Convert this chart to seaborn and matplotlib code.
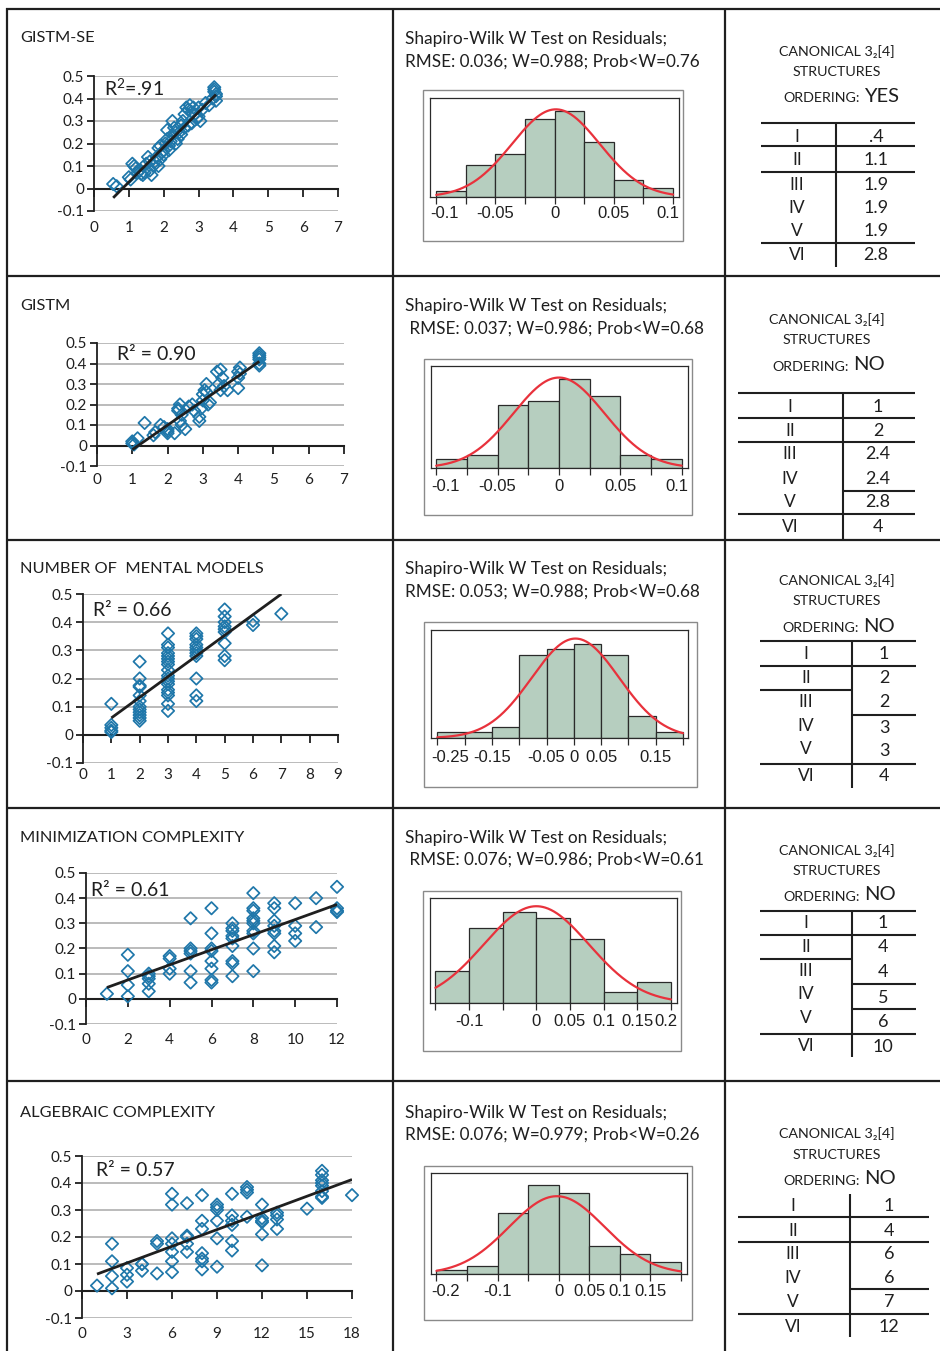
import numpy as np
import pandas as pd
import matplotlib
matplotlib.use("Agg")
import matplotlib.pyplot as plt
from matplotlib.patches import Rectangle
import seaborn as sns

sns.set_theme(style="white")
plt.rcParams["font.family"] = ["Lato", "DejaVu Sans"]
plt.rcParams["mathtext.fontset"] = "custom"
plt.rcParams["mathtext.rm"] = "Lato"
plt.rcParams["mathtext.it"] = "Lato"
plt.rcParams["text.color"] = "#1f1f1f"

W, H = 940, 1351

# ------------------------------------------------------------------ data
panel_titles = ["GISTM-SE", "GISTM", "NUMBER OF  MENTAL MODELS",
                "MINIMIZATION COMPLEXITY", "ALGEBRAIC COMPLEXITY"]
r2_labels = ["R$^{2}$=.91", "R\u00b2 = 0.90", "R\u00b2 = 0.66",
             "R\u00b2 = 0.61", "R\u00b2 = 0.57"]

gse_x = [0.55, 0.65, 1.0, 1.05, 1.1, 1.15, 1.2, 1.25, 1.3, 1.35, 1.4, 1.45, 1.5,
         1.55, 1.6, 1.6, 1.65, 1.7, 1.75, 1.8, 1.85, 1.85, 1.9, 1.9, 1.95, 2.0,
         2.0, 2.05, 2.1, 2.1, 2.15, 2.15, 2.2, 2.25, 2.25, 2.3, 2.35, 2.35, 2.4,
         2.45, 2.5, 2.5, 2.55, 2.6, 2.6, 2.65, 2.7, 2.7, 2.75, 2.8, 2.8, 2.85,
         2.9, 2.95, 3.0, 3.0, 3.05, 3.1, 3.2, 3.3, 3.4, 3.45, 3.45, 3.45, 3.5,
         3.5, 3.5]
gse_y = [0.02, 0.01, 0.05, 0.04, 0.11, 0.10, 0.09, 0.07, 0.08, 0.065, 0.06, 0.07,
         0.11, 0.14, 0.08, 0.12, 0.06, 0.10, 0.12, 0.14, 0.18, 0.10, 0.19, 0.13,
         0.16, 0.15, 0.17, 0.20, 0.22, 0.26, 0.19, 0.17, 0.21, 0.24, 0.30, 0.27,
         0.20, 0.25, 0.22, 0.25, 0.28, 0.24, 0.30, 0.33, 0.27, 0.36, 0.35, 0.28,
         0.37, 0.34, 0.29, 0.36, 0.33, 0.31, 0.32, 0.36, 0.30, 0.35, 0.38, 0.37,
         0.40, 0.45, 0.43, 0.44, 0.42, 0.39, 0.41]

gistm_x = [1.0, 1.0, 1.05, 1.15, 1.35, 1.6, 1.65, 1.8, 1.9, 2.0, 2.0, 2.0, 2.2,
           2.3, 2.3, 2.35, 2.4, 2.35, 2.4, 2.5, 2.6, 2.7, 2.75, 2.9, 2.9, 2.95,
           3.0, 3.0, 3.05, 3.1, 3.1, 3.15, 3.2, 3.4, 3.45, 3.5, 3.55, 3.5, 3.6,
           3.7, 4.0, 4.05, 4.0, 4.0, 4.05, 4.6, 4.6, 4.6, 4.6, 4.6, 4.6]
gistm_y = [0.01, 0.02, 0.005, 0.035, 0.11, 0.05, 0.065, 0.10, 0.09, 0.07, 0.08,
           0.06, 0.06, 0.17, 0.18, 0.20, 0.15, 0.12, 0.10, 0.08, 0.19, 0.20, 0.17,
           0.12, 0.14, 0.18, 0.22, 0.25, 0.27, 0.30, 0.26, 0.20, 0.21, 0.36, 0.30,
           0.37, 0.33, 0.27, 0.29, 0.27, 0.36, 0.38, 0.28, 0.33, 0.35, 0.45, 0.44,
           0.42, 0.40, 0.39, 0.43]

models_x = [1, 1, 1, 1, 1,
            2, 2, 2, 2, 2, 2, 2, 2, 2, 2, 2, 2,
            3, 3, 3, 3, 3, 3, 3, 3, 3, 3, 3, 3, 3, 3, 3, 3, 3, 3,
            4, 4, 4, 4, 4, 4, 4, 4, 4, 4, 4,
            5, 5, 5, 5, 5, 5, 5, 5, 5,
            6, 6, 7]
models_y = [0.11, 0.035, 0.025, 0.015, 0.01,
            0.26, 0.20, 0.175, 0.17, 0.14, 0.12, 0.10, 0.09, 0.08, 0.07, 0.06, 0.05,
            0.36, 0.32, 0.31, 0.29, 0.28, 0.27, 0.26, 0.25, 0.23, 0.21, 0.20, 0.19,
            0.18, 0.16, 0.15, 0.14, 0.11, 0.085,
            0.36, 0.35, 0.34, 0.32, 0.31, 0.30, 0.29, 0.28, 0.20, 0.14, 0.12,
            0.445, 0.42, 0.40, 0.385, 0.375, 0.365, 0.325, 0.28, 0.265,
            0.405, 0.39, 0.43]

minim_x = [1, 2, 2, 2, 2, 3, 3, 3, 3, 3, 4, 4, 4, 4,
           5, 5, 5, 5, 5, 5, 6, 6, 6, 6, 6, 6, 6, 6,
           7, 7, 7, 7, 7, 7, 7, 7, 7,
           8, 8, 8, 8, 8, 8, 8, 8, 8, 8,
           9, 9, 9, 9, 9, 9, 9, 9,
           10, 10, 10, 10, 11, 11, 12, 12, 12, 12]
minim_y = [0.02, 0.175, 0.11, 0.055, 0.01, 0.10, 0.09, 0.08, 0.06, 0.03,
           0.17, 0.16, 0.12, 0.10,
           0.32, 0.20, 0.19, 0.18, 0.11, 0.065,
           0.36, 0.26, 0.20, 0.19, 0.15, 0.12, 0.075, 0.065,
           0.30, 0.28, 0.27, 0.25, 0.24, 0.21, 0.15, 0.14, 0.09,
           0.42, 0.36, 0.35, 0.32, 0.31, 0.30, 0.27, 0.26, 0.20, 0.11,
           0.38, 0.36, 0.31, 0.29, 0.27, 0.26, 0.21, 0.185,
           0.38, 0.29, 0.26, 0.23, 0.40, 0.285, 0.445, 0.36, 0.35, 0.345]

alg_x = [1, 2, 2, 2, 2, 3, 3, 3, 4, 4, 4, 5, 5, 5,
         6, 6, 6, 6, 6, 6, 6, 7, 7, 7, 7, 7,
         8, 8, 8, 8, 8, 8, 8, 9, 9, 9, 9, 9, 9,
         10, 10, 10, 10, 10, 10, 11, 11, 11, 11,
         12, 12, 12, 12, 12, 12, 13, 13, 13, 13, 15,
         16, 16, 16, 16, 16, 16, 16, 16, 18]
alg_y = [0.02, 0.175, 0.11, 0.055, 0.01, 0.085, 0.06, 0.035, 0.10, 0.10, 0.075,
         0.185, 0.175, 0.065,
         0.36, 0.32, 0.195, 0.175, 0.145, 0.11, 0.07,
         0.325, 0.205, 0.20, 0.175, 0.145,
         0.355, 0.26, 0.23, 0.14, 0.12, 0.11, 0.08,
         0.32, 0.31, 0.30, 0.26, 0.195, 0.09,
         0.36, 0.28, 0.26, 0.245, 0.185, 0.15,
         0.385, 0.375, 0.365, 0.275,
         0.32, 0.27, 0.26, 0.255, 0.21, 0.095,
         0.29, 0.28, 0.265, 0.23, 0.305,
         0.445, 0.43, 0.41, 0.40, 0.39, 0.37, 0.35, 0.345, 0.355]

scatter_x = [gse_x, gistm_x, models_x, minim_x, alg_x]
scatter_y = [gse_y, gistm_y, models_y, minim_y, alg_y]
fit_slope = [0.1556, 0.1196, 0.0733, 0.0300, 0.0206]
fit_intercept = [-0.127, -0.140, -0.0133, 0.015, 0.042]
x_axis_max = [7, 7, 9, 12, 18]
x_axis_step = [1, 1, 1, 2, 3]

sw_line1 = "Shapiro-Wilk W Test on Residuals;"
sw_line2 = ["RMSE: 0.036; W=0.988; Prob<W=0.76",
            " RMSE: 0.037; W=0.986; Prob<W=0.68",
            "RMSE: 0.053; W=0.988; Prob<W=0.68",
            " RMSE: 0.076; W=0.986; Prob<W=0.61",
            "RMSE: 0.076; W=0.979; Prob<W=0.26"]

hist_edges = [
    [-0.1, -0.075, -0.05, -0.025, 0.0, 0.025, 0.05, 0.075, 0.1],
    [-0.1, -0.075, -0.05, -0.025, 0.0, 0.025, 0.05, 0.075, 0.1],
    [-0.25, -0.2, -0.15, -0.1, -0.05, 0.0, 0.05, 0.1, 0.15, 0.2],
    [-0.15, -0.1, -0.05, 0.0, 0.05, 0.1, 0.15, 0.2],
    [-0.2, -0.15, -0.1, -0.05, 0.0, 0.05, 0.1, 0.15, 0.2],
]
hist_counts = [
    [2, 11, 15, 27, 30, 19, 6, 3],
    [2, 3, 14, 15, 20, 16, 3, 2],
    [1, 1, 2, 15, 16, 17, 15, 4, 1],
    [6, 14, 17, 16, 12, 2, 4],
    [1, 2, 15, 22, 20, 7, 5, 3],
]
normal_mean = [0.001, 0.0, 0.003, 0.0, -0.003]
normal_sd = [0.037, 0.037, 0.080, 0.078, 0.078]
hist_tick_labels = [
    ["-0.1", "-0.05", "0", "0.05", "0.1"],
    ["-0.1", "-0.05", "0", "0.05", "0.1"],
    ["-0.25", "-0.15", "-0.05", "0", "0.05", "0.15"],
    ["-0.1", "0", "0.05", "0.1", "0.15", "0.2"],
    ["-0.2", "-0.1", "0", "0.05", "0.1", "0.15"],
]

structures = ["I", "II", "III", "IV", "V", "VI"]
structure_values = [
    [".4", "1.1", "1.9", "1.9", "1.9", "2.8"],
    ["1", "2", "2.4", "2.4", "2.8", "4"],
    ["1", "2", "2", "3", "3", "4"],
    ["1", "4", "4", "5", "6", "10"],
    ["1", "4", "6", "6", "7", "12"],
]
ordering = ["YES", "NO", "NO", "NO", "NO"]

# ---------------------------------------------------------------- layout
BLUE = "#1f77aa"
GRID = "#a8a8a8"
INK = "#1f1f1f"
BAR = "#b6cebf"
CURVE = "#e8323c"

# panel boxes in pixels: (left, top, right, bottom)
scatter_box = [(94, 76, 338, 211), (97, 343, 344, 466), (83, 594, 338, 763),
               (86, 873, 337, 1024), (82, 1156, 352, 1318)]
scatter_label_drop = [17, 14, 12, 16, 16]
title_y = [38, 306, 569, 838, 1113]
r2_pos = [(104, 88), (117, 355), (93, 611), (91, 890), (96, 1171)]

hist_box = [(430, 98, 679, 197), (431, 366, 688, 468), (431, 630, 688, 738),
            (430, 898, 677, 1003), (431, 1173, 687, 1274)]
hist_frame = [(423, 90, 683, 241), (424, 359, 692, 515), (424, 622, 697, 787),
              (423, 891, 681, 1051), (424, 1166, 692, 1320)]
hist_xlim = [(-0.1053, 0.1050), (-0.1043, 0.1052), (-0.2616, 0.2092),
             (-0.158, 0.209), (-0.209, 0.210)]
hist_ytop = [34.4, 22.8, 19.5, 19.7, 24.9]
hist_label_drop = [17, 19, 20, 19, 18]
sw_y = [(39, 62), (306, 329), (569, 592), (838, 860), (1113, 1135)]

table_layout = [
    dict(x0=761, x1=915, xv=836, v0=123, v1=267, hx=837, hy=(52, 72, 97),
         lines=[(123, "all"), (146, "all"), (172, "all"), (243, "all")],
         cl=797, cr=876, yl=[137, 160, 185, 208, 231, 255],
         yr=[137, 160, 185, 208, 231, 255], ord_x=860),
    dict(x0=738, x1=915, xv=843, v0=393, v1=540, hx=827, hy=(320, 340, 366),
         lines=[(393, "all"), (418, "all"), (442, "all"), (491, "right"), (514, "all")],
         cl=790, cr=878, yl=[407, 431, 454, 479, 502, 527],
         yr=[407, 431, 454, 479, 502, 527], ord_x=849),
    dict(x0=760, x1=916, xv=852, v0=641, v1=788, hx=837, hy=(581, 601, 627),
         lines=[(641, "all"), (666, "all"), (690, "left"), (715, "right"), (764, "all")],
         cl=806, cr=884, yl=[654, 678, 702, 726, 749, 776],
         yr=[654, 678, 702, 728, 751, 776], ord_x=859),
    dict(x0=760, x1=916, xv=852, v0=911, v1=1057, hx=837, hy=(851, 871, 896),
         lines=[(911, "all"), (935, "all"), (959, "left"), (984, "right"),
                (1009, "right"), (1034, "all")],
         cl=806, cr=883, yl=[923, 947, 971, 994, 1018, 1046],
         yr=[923, 947, 972, 998, 1022, 1047], ord_x=860),
    dict(x0=738, x1=929, xv=850, v0=1194, v1=1337, hx=837, hy=(1134, 1155, 1180),
         lines=[(1217, "all"), (1242, "all"), (1289, "right"), (1314, "all")],
         cl=793, cr=889, yl=[1206, 1231, 1254, 1278, 1302, 1327],
         yr=[1206, 1231, 1254, 1278, 1302, 1327], ord_x=860),
]


def frac_rect(left, top, right, bottom):
    return [left / W, 1 - bottom / H, (right - left) / W, (bottom - top) / H]


fig = plt.figure(figsize=(W / 100, H / 100), dpi=100)
fig.patch.set_facecolor("white")

# full-page layer for the cell grid, captions and tables
ov = fig.add_axes([0, 0, 1, 1])
ov.set_xlim(0, W)
ov.set_ylim(H, 0)
ov.axis("off")

for gx in (7, 393, 725):
    ov.plot([gx, gx], [8, H + 2], color=INK, lw=1.6, solid_capstyle="butt")
for gy in (9, 276, 540, 808, 1081):
    ov.plot([6, W + 2], [gy, gy], color=INK, lw=1.6, solid_capstyle="butt")

# ------------------------------------------------------------ scatter panels
for i in range(5):
    ax = fig.add_axes(frac_rect(*scatter_box[i]))
    ax.set_facecolor("none")
    pts = pd.DataFrame({"x": scatter_x[i], "y": scatter_y[i]})

    sns.scatterplot(data=pts, x="x", y="y", ax=ax, marker="D", s=40,
                    facecolor="none", edgecolor=BLUE, linewidth=1.25, zorder=3,
                    clip_on=False)
    xr = np.array([pts["x"].min(), pts["x"].max()])
    ax.plot(xr, fit_intercept[i] + fit_slope[i] * xr, color=INK, lw=2.0,
            zorder=4, solid_capstyle="butt")

    ax.set_xlim(0, x_axis_max[i])
    ax.set_ylim(-0.1, 0.5)
    yt = np.arange(-1, 6) / 10
    ax.set_yticks(yt)
    ax.set_yticklabels([f"{v:g}" for v in yt], fontsize=11, color=INK)
    ax.grid(axis="y", color=GRID, lw=1.1)
    ax.grid(axis="x", visible=False)
    ax.set_axisbelow(True)
    for side in ("top", "right"):
        ax.spines[side].set_visible(False)
    ax.spines["left"].set_color(INK)
    ax.spines["left"].set_linewidth(1.3)
    ax.spines["bottom"].set_position(("data", 0))
    ax.spines["bottom"].set_color(INK)
    ax.spines["bottom"].set_linewidth(1.5)
    ax.tick_params(axis="y", direction="out", length=5, width=1.3, color=INK,
                   pad=2, left=True)
    xt = np.arange(0, x_axis_max[i] + 1e-9, x_axis_step[i])
    ax.set_xticks(xt)
    ax.tick_params(axis="x", direction="out", length=6, width=1.3, color=INK,
                   labelbottom=False, bottom=True)
    for t in xt:
        ax.annotate(f"{t:g}", xy=(t, 0), xycoords=("data", "axes fraction"),
                    xytext=(0, -scatter_label_drop[i] * 0.72),
                    textcoords="offset points", ha="center", va="center",
                    fontsize=11, color=INK)
    ax.set_xlabel("")
    ax.set_ylabel("")

    ov.text(20, title_y[i], panel_titles[i], fontsize=11.8, va="center",
            ha="left", color=INK)
    ov.text(r2_pos[i][0], r2_pos[i][1], r2_labels[i], fontsize=14,
            va="center", ha="left", color=INK)

# ---------------------------------------------------------- residual panels
for i in range(5):
    fl, ft, fr, fb = hist_frame[i]
    ov.add_patch(Rectangle((fl, ft), fr - fl, fb - ft, fill=False,
                           edgecolor="#8a8a8a", lw=1.0))
    ov.text(405, sw_y[i][0], sw_line1, fontsize=12.4, va="center", ha="left")
    ov.text(405, sw_y[i][1], sw_line2[i], fontsize=12.3, va="center", ha="left")

    ax = fig.add_axes(frac_rect(*hist_box[i]))
    edges = np.asarray(hist_edges[i])
    mids = (edges[:-1] + edges[1:]) / 2
    resid = pd.DataFrame({"resid": np.repeat(mids, hist_counts[i])})
    sns.histplot(data=resid, x="resid", bins=list(edges), ax=ax,
                 color=BAR, edgecolor="#2a2a2a", linewidth=0.9, alpha=1.0)
    grid_x = np.linspace(edges[0], edges[-1], 400)
    width = edges[1] - edges[0]
    dens = np.exp(-0.5 * ((grid_x - normal_mean[i]) / normal_sd[i]) ** 2) / (
        normal_sd[i] * np.sqrt(2 * np.pi))
    ax.plot(grid_x, len(resid) * width * dens, color=CURVE, lw=1.6)

    ax.set_xlim(*hist_xlim[i])
    ax.set_ylim(0, hist_ytop[i])
    ax.set_yticks([])
    ax.set_xticks(edges)
    ax.tick_params(axis="x", direction="out", length=5, width=0.9,
                   color="#2a2a2a", labelbottom=False, bottom=True)
    for side in ax.spines.values():
        side.set_visible(True)
        side.set_color("#2a2a2a")
        side.set_linewidth(0.9)
    ax.set_xlabel("")
    ax.set_ylabel("")
    for lbl in hist_tick_labels[i]:
        v = float(lbl)
        if np.isclose(v, edges[0]) and i != 3:
            xpos, ha = hist_xlim[i][0], "left"
        elif np.isclose(v, edges[-1]):
            xpos, ha = hist_xlim[i][1], "right"
        else:
            xpos, ha = v, "center"
        ax.annotate(lbl, xy=(xpos, 0), xycoords=("data", "axes fraction"),
                    xytext=(0, -hist_label_drop[i] * 0.72),
                    textcoords="offset points", ha=ha, va="center",
                    fontsize=12, family="Liberation Sans", color=INK)

# ------------------------------------------------------------------ tables
for i in range(5):
    L = table_layout[i]
    ov.text(L["hx"], L["hy"][0], "CANONICAL 3\u2082[4]", fontsize=10.3,
            ha="center", va="center")
    ov.text(L["hx"], L["hy"][1], "STRUCTURES", fontsize=10.3, ha="center",
            va="center")
    ov.text(L["ord_x"], L["hy"][2] + 1, "ORDERING:", fontsize=10.3, ha="right",
            va="center")
    ov.text(L["ord_x"] + 4, L["hy"][2] - 1, ordering[i], fontsize=14.5,
            ha="left", va="center")

    ov.plot([L["xv"], L["xv"]], [L["v0"], L["v1"]], color=INK, lw=1.5,
            solid_capstyle="butt")
    for yy, span in L["lines"]:
        a = L["x0"] if span in ("all", "left") else L["xv"]
        b = L["x1"] if span in ("all", "right") else L["xv"]
        ov.plot([a, b], [yy, yy], color=INK, lw=1.5, solid_capstyle="butt")
    for k in range(6):
        ov.text(L["cl"], L["yl"][k], structures[k], fontsize=12.5, ha="center",
                va="center")
        ov.text(L["cr"], L["yr"][k], structure_values[i][k], fontsize=13,
                ha="center", va="center")

fig.savefig("out.png", dpi=100, facecolor="white")
